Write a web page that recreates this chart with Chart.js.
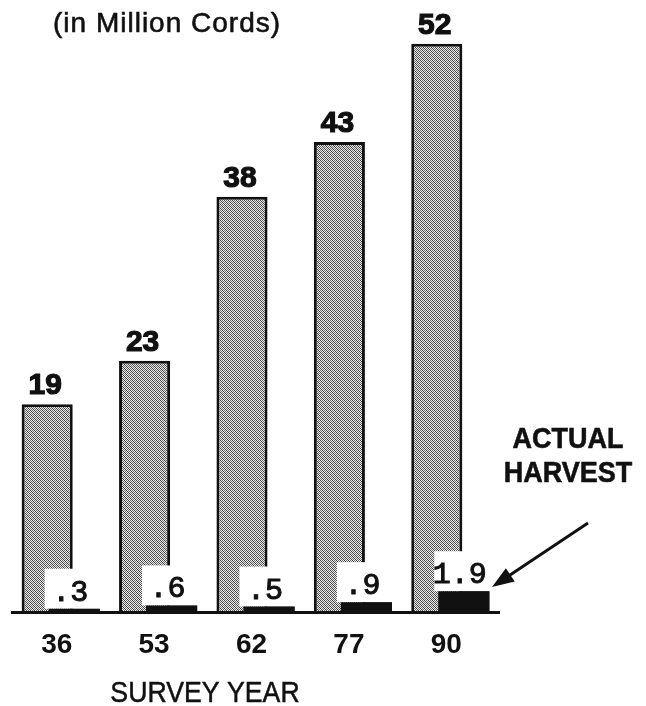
<!DOCTYPE html>
<html>
<head>
<meta charset="utf-8">
<script src="https://cdn.jsdelivr.net/npm/chart.js@4"></script>
<style>
  html, body { margin: 0; padding: 0; background: #fff; }
  #wrap { width: 646px; height: 706px; }
</style>
</head>
<body>
<div id="wrap"><canvas id="chart" width="646" height="706"></canvas></div>
<script>
const years = ['36', '53', '62', '77', '90'];
const inventory = [19, 23, 38, 43, 52];
const harvest = [0.3, 0.6, 0.5, 0.9, 1.9];
const inventoryLabels = ['19', '23', '38', '43', '52'];
const harvestLabels = ['.3', '.6', '.5', '.9', '1.9'];

// stippled grey fill like the old halftone
function makeStipple() {
  const c = document.createElement('canvas');
  c.width = 4; c.height = 4;
  const g = c.getContext('2d');
  g.fillStyle = '#eeeeee';
  g.fillRect(0, 0, 4, 4);
  for (let y = 0; y < 4; y++) {
    for (let x = 0; x < 4; x++) {
      if ((x + y) % 2 === 0) {
        g.fillStyle = (x - y + 8) % 4 === 0 ? '#3c3c3c' : '#6a6a6a';
        g.fillRect(x, y, 1, 1);
      }
    }
  }
  return g.createPattern(c, 'repeat');
}

function drawScaledText(ctx, text, x, y, sx, stroke) {
  ctx.save();
  ctx.translate(x, y);
  ctx.scale(sx, 1);
  ctx.fillText(text, 0, 0);
  if (stroke) {
    ctx.lineWidth = stroke;
    ctx.strokeText(text, 0, 0);
  }
  ctx.restore();
}

const annotations = {
  id: 'annotations',
  afterDatasetsDraw(chart) {
    const ctx = chart.ctx;
    const grey = chart.getDatasetMeta(0).data;
    const black = chart.getDatasetMeta(1).data;
    ctx.save();
    ctx.fillStyle = '#111';
    ctx.strokeStyle = '#111';
    ctx.textAlign = 'center';
    ctx.textBaseline = 'alphabetic';
    ctx.font = "bold 30px 'Liberation Sans'";
    grey.forEach((bar, i) => {
      drawScaledText(ctx, inventoryLabels[i], bar.x - 2, bar.y - 10, 1, 1.2);
    });

    black.forEach((bar, i) => {
      const left = bar.x - bar.width / 2 - 4;
      ctx.fillStyle = '#fff';
      ctx.fillRect(left, bar.y - 40, bar.width + 4, 40);
      bar.draw(ctx);
      ctx.fillStyle = '#111';
      ctx.font = "30px 'Liberation Mono'";
      ctx.textAlign = 'center';
      drawScaledText(ctx, harvestLabels[i], bar.x - 4, bar.y - 8, 1, 1);
    });
    ctx.restore();
  },
  afterDraw(chart) {
    const ctx = chart.ctx;
    ctx.save();
    ctx.fillStyle = '#111';
    ctx.strokeStyle = '#111';
    ctx.textBaseline = 'alphabetic';

    ctx.textAlign = 'left';
    ctx.font = "28px 'Liberation Sans'";
    ctx.letterSpacing = '1px';
    drawScaledText(ctx, '(in Million Cords)', 53, 32, 1, 0.6);
    ctx.letterSpacing = '0px';

    ctx.textAlign = 'center';
    ctx.font = "29px 'Liberation Sans'";
    drawScaledText(ctx, 'SURVEY YEAR', 205, 702, 0.92, 0.5);

    ctx.font = "bold 30px 'Liberation Sans'";
    drawScaledText(ctx, 'ACTUAL', 568, 448, 0.9, 0.6);
    drawScaledText(ctx, 'HARVEST', 568, 482, 0.9, 0.6);

    // arrow pointing at the last harvest bar
    const x0 = 588, y0 = 523, x1 = 492, y1 = 587;
    const ang = Math.atan2(y1 - y0, x1 - x0);
    ctx.lineWidth = 3;
    ctx.beginPath();
    ctx.moveTo(x0, y0);
    ctx.lineTo(x1 - 14 * Math.cos(ang), y1 - 14 * Math.sin(ang));
    ctx.stroke();
    ctx.beginPath();
    ctx.moveTo(x1, y1);
    ctx.lineTo(x1 - 22 * Math.cos(ang) + 8 * Math.sin(ang), y1 - 22 * Math.sin(ang) - 8 * Math.cos(ang));
    ctx.lineTo(x1 - 22 * Math.cos(ang) - 8 * Math.sin(ang), y1 - 22 * Math.sin(ang) + 8 * Math.cos(ang));
    ctx.closePath();
    ctx.fill();
    ctx.restore();
  }
};

const ctx = document.getElementById('chart').getContext('2d');
new Chart(ctx, {
  type: 'bar',
  data: {
    labels: years,
    datasets: [
      {
        label: 'Inventory',
        data: inventory,
        backgroundColor: makeStipple(),
        borderColor: '#111',
        borderWidth: 3
      },
      {
        label: 'Actual Harvest',
        data: harvest,
        backgroundColor: '#111',
        borderWidth: 0
      }
    ]
  },
  options: {
    responsive: false,
    animation: false,
    devicePixelRatio: 1,
    categoryPercentage: 0.555,
    barPercentage: 1.89,
    layout: { padding: { left: 12, right: 147, top: 0, bottom: 0 } },
    plugins: {
      legend: { display: false },
      tooltip: { enabled: false }
    },
    scales: {
      x: {
        grid: { display: false, drawTicks: false },
        border: { display: true, color: '#111', width: 3, z: 1 },
        ticks: {
          color: '#111',
          font: { family: 'Liberation Sans', size: 28, weight: 'bold' },
          padding: 16,
          labelOffset: -4,
          maxRotation: 0
        },
        afterFit: (scale) => { scale.height = 94; }
      },
      y: {
        display: false,
        min: 0,
        max: 56
      }
    }
  },
  plugins: [annotations]
});
</script>
</body>
</html>
